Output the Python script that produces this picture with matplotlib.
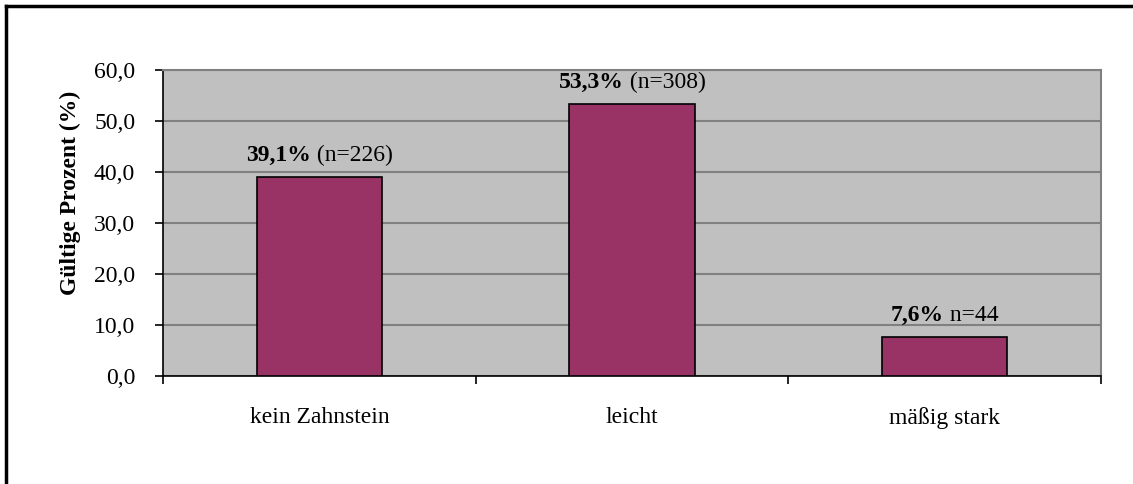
import matplotlib.pyplot as plt
from matplotlib.lines import Line2D

categories = ['kein Zahnstein', 'leicht', 'mäßig stark']
percent = [39.1, 53.3, 7.6]
counts = ['(n=226)', '(n=308)', 'n=44']
yticks = [0, 10, 20, 30, 40, 50, 60]

plt.rcParams['font.family'] = ['Liberation Serif', 'DejaVu Serif']
FS = 17

fig = plt.figure(figsize=(11.33, 4.84), dpi=100)
ax = fig.add_axes([163 / 1133, 1 - 376 / 484, (1101 - 163) / 1133, (376 - 70) / 484])

ax.set_facecolor('#c0c0c0')
x = range(len(categories))
ax.bar(x, percent, width=0.4, color='#993366', edgecolor='black', linewidth=1.2, zorder=3)

ax.set_xlim(-0.5, 2.5)
ax.set_ylim(0, 60)
ax.set_yticks(yticks)
ax.set_yticklabels([f'{v:.1f}'.replace('.', ',') for v in yticks], fontsize=FS)
ax.grid(axis='y', color='#808080', linewidth=1.5, zorder=1)

# category ticks sit between the groups, labels in the middle
ax.set_xticks([-0.5, 0.5, 1.5, 2.5])
ax.set_xticklabels([])
ax.set_xticks(list(x), minor=True)
ax.set_xticklabels(categories, minor=True, fontsize=FS)
ax.tick_params(axis='x', which='minor', length=0, pad=22)
ax.tick_params(axis='x', which='major', direction='out', length=6, width=1.2)
ax.tick_params(axis='y', direction='out', length=6, width=1.2, pad=14)

for side in ['top', 'right']:
    ax.spines[side].set_color('#808080')
    ax.spines[side].set_linewidth(1.5)
for side in ['left', 'bottom']:
    ax.spines[side].set_color('black')
    ax.spines[side].set_linewidth(1.2)

ax.set_ylabel('Gültige Prozent (%)', fontsize=FS, fontweight='bold')
ax.yaxis.set_label_coords(-0.087, 0.6)

# value labels: bold percentage followed by the count
off = 11.5
for i, (p, n) in enumerate(zip(percent, counts)):
    pct = f'{p:.1f}%'.replace('.', ',')
    t1 = ax.annotate(pct, (i, p), xytext=(0, off), textcoords='offset points',
                     ha='right', va='baseline', fontsize=FS, fontweight='bold')
    t2 = ax.annotate(' ' + n, (i, p), xytext=(0, off), textcoords='offset points',
                     ha='left', va='baseline', fontsize=FS)
    fig.canvas.draw()
    w1 = t1.get_window_extent().width
    w2 = t2.get_window_extent().width
    shift = (w1 - w2) / 2 * 72 / fig.dpi
    t1.set_position((shift, off))
    t2.set_position((shift, off))

# frame around the chart, cut off at right and bottom
fig.add_artist(Line2D([6 / 1133, 6 / 1133], [0, 1 - 6 / 484], color='black', linewidth=2.5))
fig.add_artist(Line2D([6 / 1133, 1], [1 - 6 / 484, 1 - 6 / 484], color='black', linewidth=2.5))

fig.savefig('out.png', dpi=100)
